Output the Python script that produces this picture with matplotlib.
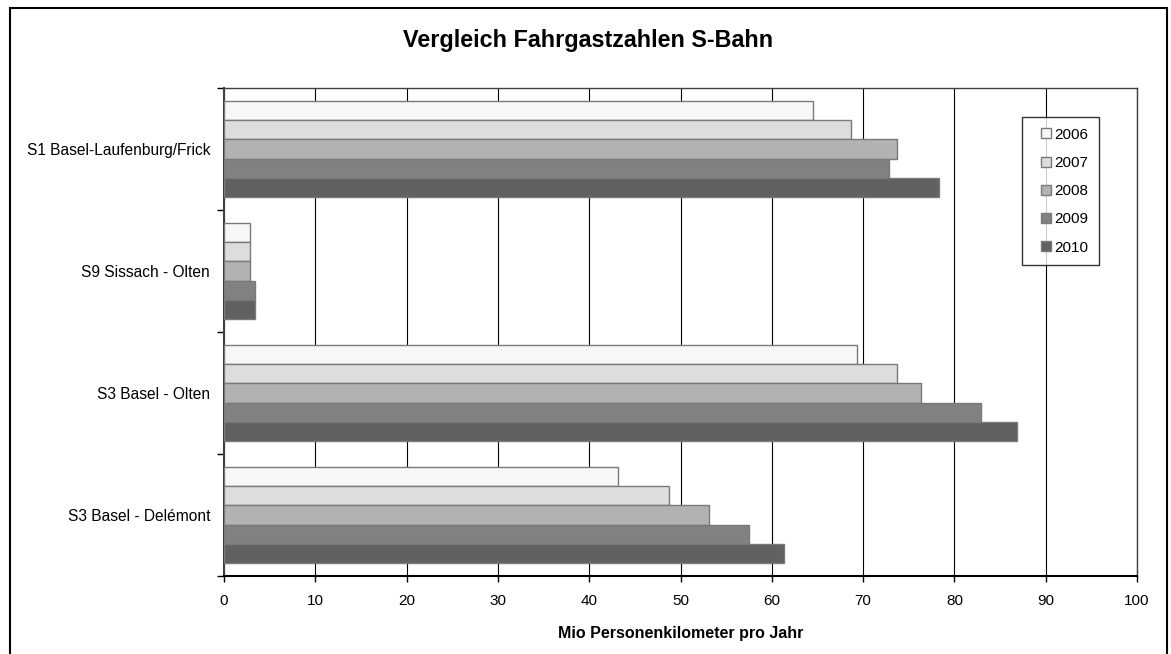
import numpy as np
import matplotlib
matplotlib.use("Agg")
import matplotlib.pyplot as plt
from matplotlib.patches import Rectangle
from matplotlib.lines import Line2D

plt.rcParams['font.family'] = ['Liberation Sans', 'DejaVu Sans']

# Daten (Mio Personenkilometer pro Jahr)
strecken = ["S1 Basel-Laufenburg/Frick", "S9 Sissach - Olten",
            "S3 Basel - Olten", "S3 Basel - Delémont"]
jahre = ["2006", "2007", "2008", "2009", "2010"]
werte_2006 = [64.5, 2.8, 69.3, 43.2]
werte_2007 = [68.7, 2.8, 73.7, 48.7]
werte_2008 = [73.7, 2.8, 76.3, 53.1]
werte_2009 = [72.8, 3.35, 82.9, 57.5]
werte_2010 = [78.3, 3.35, 86.9, 61.3]
serien = [werte_2006, werte_2007, werte_2008, werte_2009, werte_2010]
farben = ["#f7f7f7", "#dddddd", "#b2b2b2", "#818181", "#616161"]
kante = "#7a7a7a"

W, H = 1171, 654
fig = plt.figure(figsize=(W / 100, H / 100), dpi=100)

# Rahmen um das ganze Diagramm (unten offen, wie im Original abgeschnitten)
fig.patches.append(Rectangle((9.5 / W, -0.05), (1167 - 9.5) / W, 1.05 - 7.5 / H,
                             transform=fig.transFigure, fill=False,
                             edgecolor="black", lw=1.5))

ax = fig.add_axes([224 / W, (H - 576) / H, (1137 - 224) / W, (576 - 88) / H])

n = len(serien)
bh = 0.156
y = np.arange(len(strecken))
for i, (vals, farbe, jahr) in enumerate(zip(serien, farben, jahre)):
    offs = (i - (n - 1) / 2) * bh
    ax.barh(y + offs, vals, height=bh, color=farbe, edgecolor=kante,
            linewidth=1.0, zorder=3)

ax.set_xlim(0, 100)
ax.set_ylim(len(strecken) - 0.5, -0.5)
ax.set_xticks(np.arange(0, 101, 10))
ax.tick_params(axis="x", direction="out", length=4, width=1, labelsize=11, pad=9)
ax.grid(axis="x", color="black", lw=0.8, zorder=1)

# Kategorienachse: Striche zwischen den Kategorien, Beschriftung mittig
ax.set_yticks(np.arange(-0.5, len(strecken), 1.0))
ax.set_yticklabels([])
ax.tick_params(axis="y", which="major", direction="out", length=5, width=1)
ax.set_yticks(y, minor=True)
ax.set_yticklabels(strecken, minor=True, fontsize=11.2)
ax.tick_params(axis="y", which="minor", length=0, pad=10)

for sp in ax.spines.values():
    sp.set_color("#404040")
    sp.set_linewidth(1.0)
ax.spines["bottom"].set_color("black")
ax.spines["bottom"].set_linewidth(1.5)
ax.spines["left"].set_linewidth(1.5)

ax.set_xlabel("Mio Personenkilometer pro Jahr", fontsize=11.5, fontweight="bold",
              labelpad=13)

fig.text(588 / W, 1 - 41 / H, "Vergleich Fahrgastzahlen S-Bahn", ha="center",
         va="center", fontsize=16.8, fontweight="bold")

handles = [Line2D([], [], ls="none", marker="s", markersize=7.5,
                  markerfacecolor=f, markeredgecolor=kante, markeredgewidth=1.0)
           for f in farben]
leg = ax.legend(handles, jahre, loc="upper left",
                bbox_to_anchor=(1022 / W, 1 - 117 / H),
                bbox_transform=fig.transFigure, fontsize=11, frameon=True,
                fancybox=False, handlelength=1.74, handletextpad=-0.3,
                labelspacing=0.93, borderpad=0.7, borderaxespad=0)
leg.get_frame().set_edgecolor("black")
leg.get_frame().set_linewidth(1.0)
leg.set_zorder(5)

fig.savefig("out.png", dpi=100)
